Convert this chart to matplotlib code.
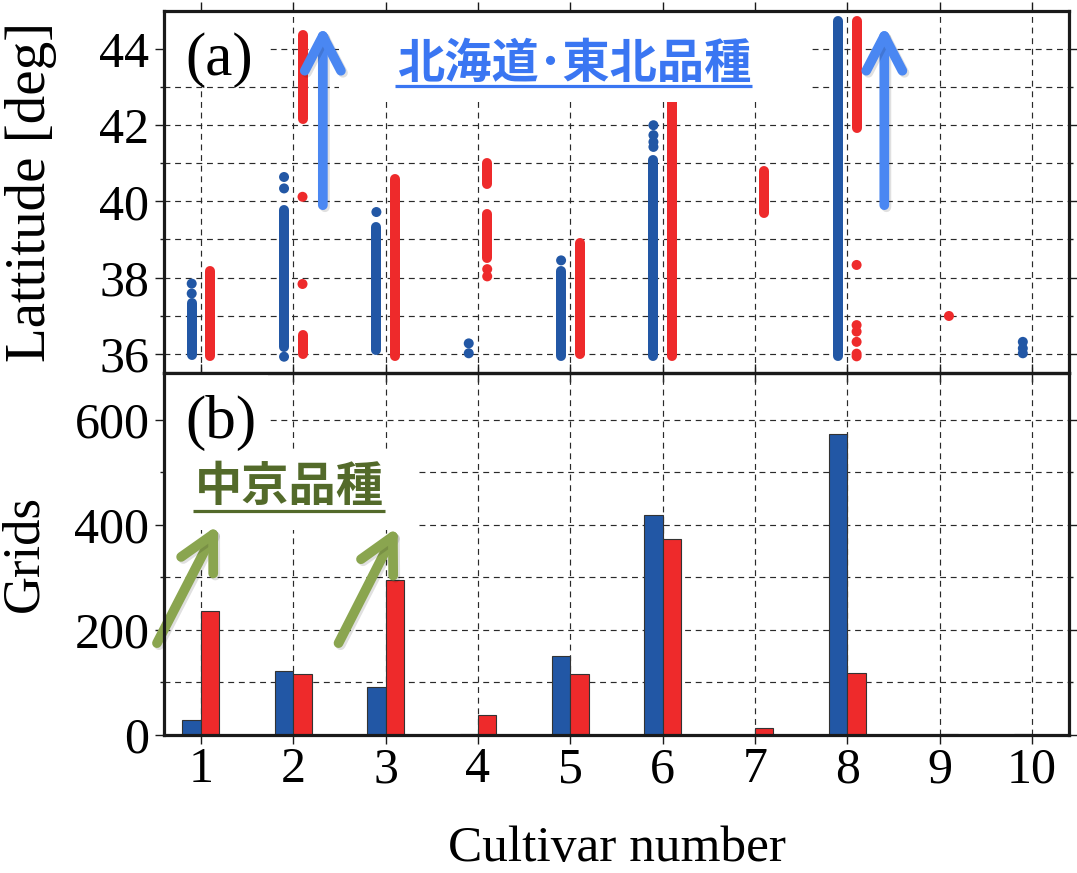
import matplotlib
matplotlib.use("Agg")
import matplotlib.pyplot as plt
from matplotlib.patches import Rectangle
import matplotlib.patheffects as pe

# ---------------- data ----------------
cultivars = [1, 2, 3, 4, 5, 6, 7, 8, 9, 10]
blue_count = [28, 122, 91, 2, 150, 419, 0, 574, 0, 2]
red_count = [236, 116, 295, 38, 116, 373, 13, 118, 1, 0]

# continuous runs of dots (latitude ranges) per cultivar
blue_run_cultivar = [1, 2, 3, 5, 6, 8]
blue_run_lo = [35.97, 36.18, 36.10, 35.94, 35.94, 35.94]
blue_run_hi = [37.32, 39.77, 39.33, 38.16, 41.08, 44.75]
# isolated dots
blue_dot_cultivar = [1, 1, 2, 2, 2, 3, 4, 4, 5, 6, 6, 6, 6, 10, 10, 10]
blue_dot_lat = [37.58, 37.84, 35.92, 40.34, 40.64, 39.72, 36.01, 36.27, 38.45,
                41.43, 41.56, 41.74, 42.00, 36.01, 36.14, 36.31]

red_run_cultivar = [1, 2, 2, 3, 4, 4, 5, 6, 7, 8]
red_run_lo = [35.94, 35.99, 42.17, 35.94, 40.46, 38.51, 35.99, 35.94, 39.69, 41.94]
red_run_hi = [38.16, 36.49, 44.36, 40.60, 41.00, 39.67, 38.91, 43.20, 40.80, 44.75]
red_dot_cultivar = [2, 2, 4, 4, 8, 8, 8, 8, 8, 8, 9]
red_dot_lat = [37.83, 40.12, 38.03, 38.22, 38.33, 36.75, 36.58, 36.31, 36.00, 35.93, 36.99]

xtick_labels = ["1", "2", "3", "4", "5", "6", "7", "8", "9", "10"]

# ---------------- style ----------------
BLUE = "#2257a5"
RED = "#ee2a2b"
ARROW_BLUE = "#4a87f2"
ARROW_GREEN = "#8aa54f"
TITLE_BLUE = "#3a76f2"
TEXT_GREEN = "#536a2a"
OFF = 0.1
BW = 0.2

plt.rcParams['font.family'] = ['Liberation Serif', 'DejaVu Serif']
CJK = ['Noto Sans CJK JP', 'DejaVu Sans']

W, H = 1077, 873
fig = plt.figure(figsize=(W / 100, H / 100), dpi=100)
L, R, T, M, B = 164, 1069, 11, 372.7, 735
ax1 = fig.add_axes([L / W, 1 - M / H, (R - L) / W, (M - T) / H])
ax2 = fig.add_axes([L / W, 1 - B / H, (R - L) / W, (B - M) / H])
ax2.patch.set_visible(False)

grid_kw = dict(linestyle=(0, (5, 4)), color="#2a2a2a", linewidth=0.85)
for ax in (ax1, ax2):
    ax.set_axisbelow(True)
    ax.set_xlim(0.6, 10.4)
    ax.set_xticks(cultivars)
    ax.grid(True, which="both", **grid_kw)
    for sp in ax.spines.values():
        sp.set_linewidth(2.3)
        sp.set_color("#1a1a1a")
        sp.set_zorder(10)
    ax.tick_params(which="major", direction="out", length=6.5, width=1.0,
                   top=True, right=True, labelsize=36, pad=4, color="#1a1a1a")
    ax.tick_params(which="minor", direction="out", length=3, width=1.0,
                   top=True, right=True, color="#1a1a1a")
    ax.tick_params(axis="x", which="minor", top=False, bottom=False)

# ---------------- top panel ----------------
ax1.set_ylim(35.5, 45)
ax1.set_yticks([36, 38, 40, 42, 44])
ax1.set_yticks([37, 39, 41, 43], minor=True)
ax1.tick_params(labelbottom=False)

lw_dot = 7.2
ax1.vlines([c - OFF for c in blue_run_cultivar], blue_run_lo, blue_run_hi,
           colors=BLUE, linewidth=lw_dot, capstyle="round", zorder=2)
ax1.vlines([c + OFF for c in red_run_cultivar], red_run_lo, red_run_hi,
           colors=RED, linewidth=lw_dot, capstyle="round", zorder=2)
ax1.scatter([c - OFF for c in blue_dot_cultivar], blue_dot_lat, s=lw_dot ** 2,
            color=BLUE, edgecolors="none", zorder=2)
ax1.scatter([c + OFF for c in red_dot_cultivar], red_dot_lat, s=lw_dot ** 2,
            color=RED, edgecolors="none", zorder=2)

# white boxes behind labels
ax1.add_patch(Rectangle((0.6, 43.1), 1.15, 1.9, facecolor="white",
                        edgecolor="none", zorder=3))
ax1.add_patch(Rectangle((2.5, 42.62), 5.1, 2.38, facecolor="white",
                        edgecolor="none", zorder=3))

ax1.text(0.83, 43.72, "(a)", fontsize=44, ha="left", va="center", zorder=6)
ax1.text(5.04, 43.62, "北海道･東北品種", fontsize=34, fontweight="bold",
         family=CJK, color=TITLE_BLUE, ha="center", va="center", zorder=6)
ax1.plot([3.1, 6.97], [43.02, 43.02], color=TITLE_BLUE, lw=2.3,
         solid_capstyle="butt", zorder=6)

shadow = [pe.SimpleLineShadow(offset=(1.5, -1.5), shadow_color="k", alpha=0.12),
          pe.Normal()]
for xa in (2.32, 8.40):
    ax1.annotate("", xy=(xa, 44.62), xytext=(xa, 39.9),
                 arrowprops=dict(arrowstyle="->,head_length=1.25,head_width=0.65",
                                 color=ARROW_BLUE, lw=7, shrinkA=0, shrinkB=0,
                                 capstyle="round", joinstyle="round",
                                 mutation_scale=20, path_effects=shadow),
                 zorder=5)

ax1.set_ylabel("Lattitude [deg]", fontsize=41)
ax1.yaxis.set_label_coords(-0.118, 0.5)

# ---------------- bottom panel ----------------
ax2.set_ylim(0, 690)
ax2.set_yticks([0, 200, 400, 600])
ax2.set_yticks([100, 300, 500], minor=True)
ax2.set_xticklabels(xtick_labels)
ax2.tick_params(axis="x", pad=2)

ax2.bar([c - OFF for c in cultivars], blue_count, width=BW, color=BLUE,
        edgecolor="#333333", linewidth=0.8, zorder=2)
ax2.bar([c + OFF for c in cultivars], red_count, width=BW, color=RED,
        edgecolor="#333333", linewidth=0.8, zorder=2)

ax2.add_patch(Rectangle((0.6, 543), 1.13, 147, facecolor="white",
                        edgecolor="none", zorder=1))
ax2.add_patch(Rectangle((0.6, 390), 2.72, 153, facecolor="white",
                        edgecolor="none", zorder=1))

ax2.text(0.83, 594, "(b)", fontsize=44, ha="left", va="center", zorder=6)
ax2.text(1.96, 472, "中京品種", fontsize=34, fontweight="bold", family=CJK,
         color=TEXT_GREEN, ha="center", va="center", zorder=6)
ax2.plot([0.913, 2.99], [426, 426], color=TEXT_GREEN, lw=2.3,
         solid_capstyle="butt", zorder=6)

for (x0, y0, x1, y1) in ((0.524, 175, 1.184, 400), (2.49, 175, 3.13, 396)):
    ann = ax2.annotate("", xy=(x1, y1), xytext=(x0, y0),
                       arrowprops=dict(arrowstyle="->,head_length=1.25,head_width=0.65",
                                       color=ARROW_GREEN, lw=7, shrinkA=0, shrinkB=0,
                                       capstyle="round", joinstyle="round",
                                       mutation_scale=20, path_effects=shadow),
                       annotation_clip=False, zorder=5)
    ann.arrow_patch.set_clip_on(False)

ax2.set_ylabel("Grids", fontsize=38)
ax2.yaxis.set_label_coords(-0.128, 0.5)
ax2.set_xlabel("Cultivar number", fontsize=37)
ax2.xaxis.set_label_coords(0.5, -0.25)

fig.savefig("out.png", dpi=100, facecolor="white")
